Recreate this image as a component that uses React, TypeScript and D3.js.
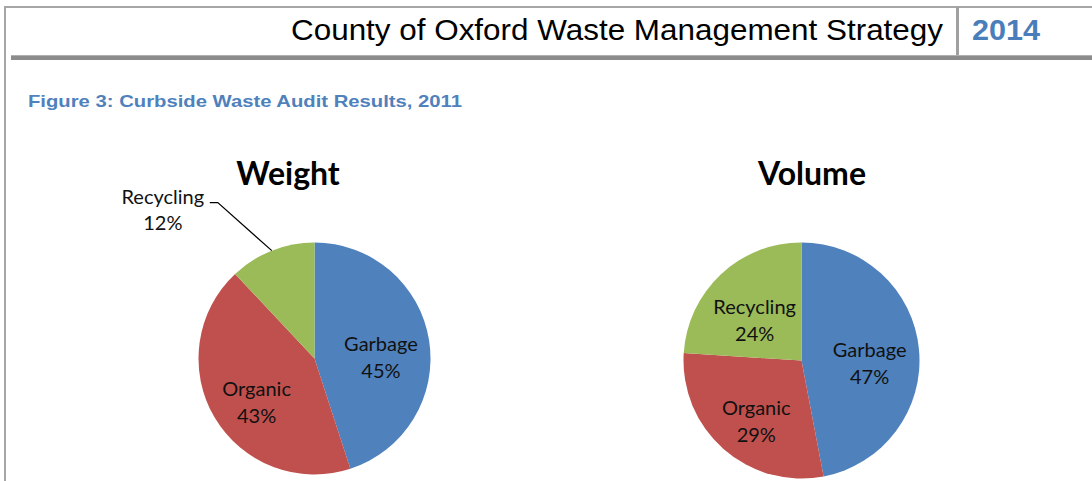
import React from "react";
import * as d3 from "d3";

const categories = ["Garbage", "Organic", "Recycling"];
const weightValues = [45, 43, 12];
const volumeValues = [47, 29, 24];
const chartTitles = ["Weight", "Volume"];
const colors = ["#4f81bd", "#c0504d", "#9bbb59"];

const headerTitle = "County of Oxford Waste Management Strategy";
const headerYear = "2014";
const figureCaption = "Figure 3: Curbside Waste Audit Results, 2011";

const W = 1092;
const H = 481;
const labelFont = "Lato, 'Open Sans', sans-serif";
const labelSize = 20;

type PieProps = {
  cx: number;
  cy: number;
  r: number;
  values: number[];
  title: string;
  titleX: number;
  outsideIndex?: number;
};

function Pie({ cx, cy, r, values, title, titleX, outsideIndex }: PieProps) {
  const data = categories.map((c, i) => ({ name: c, value: values[i], color: colors[i] }));
  const pie = d3
    .pie<{ name: string; value: number; color: string }>()
    .value((d) => d.value)
    .sort(null)
    .startAngle(0)
    .endAngle(2 * Math.PI);
  const arcs = pie(data);
  const arc = d3.arc<d3.PieArcDatum<any>>().innerRadius(0).outerRadius(r);
  const labelArc = d3.arc<d3.PieArcDatum<any>>().innerRadius(r * 0.58).outerRadius(r * 0.58);
  const outerArc = d3.arc<d3.PieArcDatum<any>>().innerRadius(r).outerRadius(r);

  return (
    <g>
      <text
        x={titleX}
        y={185}
        textAnchor="middle"
        fontFamily={labelFont}
        fontWeight={700}
        fontSize={32}
        fill="#000"
      >
        {title}
      </text>
      <g transform={`translate(${cx},${cy})`}>
        {arcs.map((a, i) => (
          <path key={i} d={arc(a) || ""} fill={a.data.color} />
        ))}
        {arcs.map((a, i) => {
          const pct = `${a.data.value}%`;
          if (i === outsideIndex) {
            const [px, py] = outerArc.centroid(a);
            const ex = px - 54;
            const ey = py - 48;
            const lx = ex - 8;
            const tx = lx - 47;
            return (
              <g key={"l" + i}>
                <polyline
                  points={`${px},${py} ${ex},${ey} ${lx},${ey}`}
                  fill="none"
                  stroke="#000"
                  strokeWidth={1.2}
                />
                <text
                  x={tx}
                  y={ey + 1}
                  textAnchor="middle"
                  fontFamily={labelFont}
                  fontSize={labelSize}
                  fill="#111"
                >
                  {a.data.name}
                </text>
                <text
                  x={tx}
                  y={ey + 27}
                  textAnchor="middle"
                  fontFamily={labelFont}
                  fontSize={labelSize}
                  fill="#111"
                >
                  {pct}
                </text>
              </g>
            );
          }
          const [lx, ly] = labelArc.centroid(a);
          return (
            <g key={"l" + i}>
              <text
                x={lx}
                y={ly + 3}
                textAnchor="middle"
                fontFamily={labelFont}
                fontSize={labelSize}
                fill="#111"
              >
                {a.data.name}
              </text>
              <text
                x={lx}
                y={ly + 30}
                textAnchor="middle"
                fontFamily={labelFont}
                fontSize={labelSize}
                fill="#111"
              >
                {pct}
              </text>
            </g>
          );
        })}
      </g>
    </g>
  );
}

export default function App() {
  return (
    <svg
      width={W}
      height={H}
      style={{ position: "absolute", left: 0, top: 0, background: "#fff" }}
    >
      {/* frame */}
      <line x1={5} y1={7} x2={W} y2={7} stroke="#a6a6a6" strokeWidth={2} />
      <line x1={5} y1={6} x2={5} y2={H} stroke="#a6a6a6" strokeWidth={2} />
      <line x1={957.5} y1={7} x2={957.5} y2={56} stroke="#a0a0a0" strokeWidth={3} />
      <rect x={11} y={55} width={W - 11} height={5} fill="#8c8c8c" />
      <line x1={11} y1={55.5} x2={W} y2={55.5} stroke="#b0b0b0" strokeWidth={1} />

      <text
        x={943}
        y={40}
        textAnchor="end"
        fontFamily="'Liberation Sans', Arial, sans-serif"
        fontSize={29}
        fill="#000"
        textLength={652}
        lengthAdjust="spacingAndGlyphs"
      >
        {headerTitle}
      </text>
      <text
        x={972}
        y={40}
        fontFamily="'Liberation Sans', Arial, sans-serif"
        fontWeight={700}
        fontSize={29}
        fill="#4a7ebb"
        textLength={68}
        lengthAdjust="spacingAndGlyphs"
      >
        {headerYear}
      </text>
      <text
        x={28}
        y={107}
        fontFamily="'Liberation Sans', Arial, sans-serif"
        fontWeight={700}
        fontSize={16.5}
        fill="#4f81bd"
        textLength={434}
        lengthAdjust="spacingAndGlyphs"
      >
        {figureCaption}
      </text>

      <Pie cx={314.5} cy={358.5} r={116} values={weightValues} title={chartTitles[0]} titleX={288} outsideIndex={2} />
      <Pie cx={801.5} cy={360.5} r={118} values={volumeValues} title={chartTitles[1]} titleX={812} />
    </svg>
  );
}
